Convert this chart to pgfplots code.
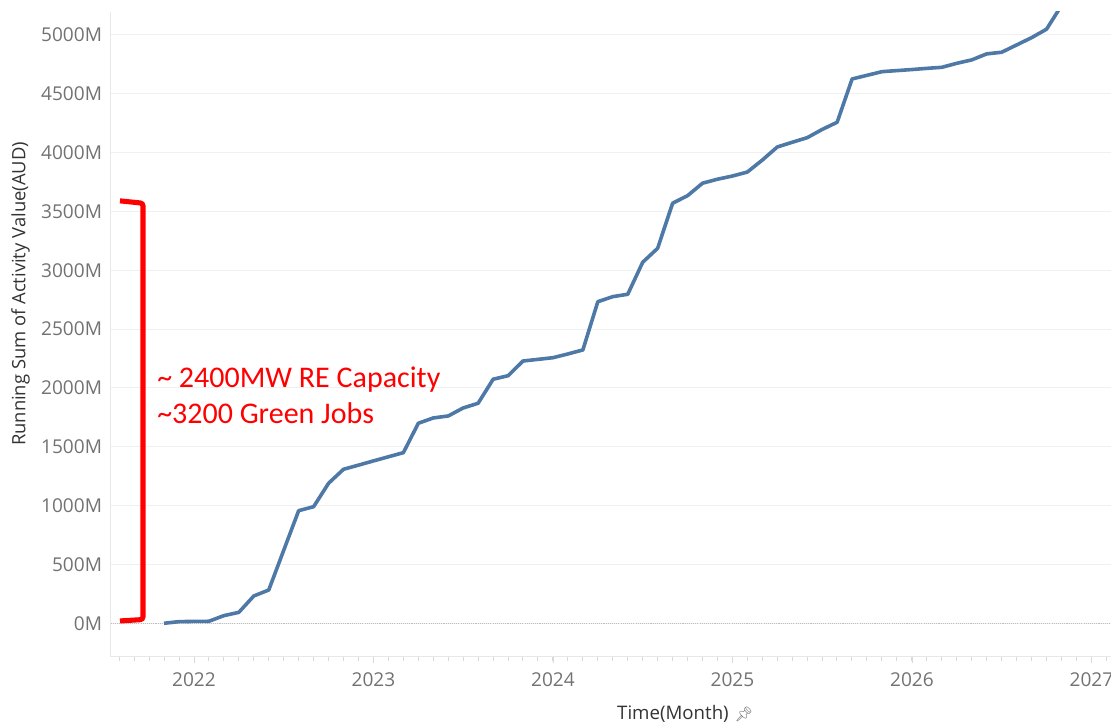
\documentclass[border=0pt]{standalone}
\usepackage{fontspec}
\setmainfont{Open Sans}
\newfontfamily\calfont{Carlito}
\newfontfamily\emojifont{Noto Emoji}
\usepackage{pgfplots}
\pgfplotsset{compat=1.18}
\definecolor{tblue}{HTML}{4E79A7}
\definecolor{ticklab}{HTML}{727272}
\definecolor{gridc}{HTML}{F0F0F0}
\definecolor{axc}{HTML}{E8E8E8}
\definecolor{titc}{HTML}{333333}

\pgfplotstableread{
x y
2021.8333 0
2021.9167 14
2022.0000 16
2022.0833 17
2022.1667 65
2022.2500 93
2022.3333 232
2022.4167 283
2022.5000 620
2022.5833 957
2022.6667 991
2022.7500 1190
2022.8333 1309
2022.9167 1344
2023.0000 1380
2023.0833 1415
2023.1667 1450
2023.2500 1700
2023.3333 1745
2023.4167 1762
2023.5000 1830
2023.5833 1870
2023.6667 2074
2023.7500 2104
2023.8333 2229
2023.9167 2243
2024.0000 2257
2024.0833 2289
2024.1667 2323
2024.2500 2733
2024.3333 2776
2024.4167 2796
2024.5000 3068
2024.5833 3187
2024.6667 3570
2024.7500 3634
2024.8333 3740
2024.9167 3774
2025.0000 3801
2025.0833 3835
2025.1667 3937
2025.2500 4048
2025.3333 4088
2025.4167 4127
2025.5000 4197
2025.5833 4258
2025.6667 4626
2025.7500 4657
2025.8333 4688
2025.9167 4697
2026.0000 4706
2026.0833 4716
2026.1667 4725
2026.2500 4759
2026.3333 4788
2026.4167 4839
2026.5000 4853
2026.5833 4915
2026.6667 4977
2026.7500 5049
2026.8333 5250
}\datatable

\begin{document}
\begin{tikzpicture}[x=1pt,y=1pt]
\path[use as bounding box] (-83pt,-51.2pt) rectangle (750.2pt,492.5pt);
\begin{axis}[
  at={(0pt,0pt)}, anchor=south west,
  scale only axis, width=750.2pt, height=483.5pt,
  xmin=2021.536, xmax=2027.109, ymin=-284, ymax=5195,
  axis x line*=bottom, axis y line*=left,
  axis line style={draw=axc, line width=0.75pt, -},
  xtick={2022,2023,2024,2025,2026,2027},
  xticklabels={2022,2023,2024,2025,2026,2027},
  minor xtick={2021.58333,2021.66667,...,2027.1},
  tick align=outside,
  major tick length=5pt, minor tick length=3.5pt,
  xtick style={draw=black!15, line width=0.6pt},
  minor tick style={draw=black!12, line width=0.6pt},
  ytick={0,500,1000,1500,2000,2500,3000,3500,4000,4500,5000},
  yticklabels={0M,500M,1000M,1500M,2000M,2500M,3000M,3500M,4000M,4500M,5000M},
  ytick style={draw=none},
  ymajorgrids, major grid style={draw=gridc, line width=0.75pt},
  extra y ticks={0}, extra y tick labels={},
  extra y tick style={ymajorgrids, major grid style={draw=black!25, dash pattern=on 0.8pt off 0.8pt, line width=0.6pt}},
  tick label style={font=\fontsize{14.3}{16}\selectfont, text=ticklab},
  yticklabel style={xshift=2pt},
  xticklabel style={yshift=-3.5pt},
  clip=true,
]
\addplot[tblue, line width=2.7pt, line join=round] table[x=x,y=y] {\datatable};
\draw[red, line width=3.8pt, rounded corners=2pt]
  (axis cs:2021.588,20) -- (axis cs:2021.716,32) -- (axis cs:2021.716,3570) -- (axis cs:2021.588,3590);
\node[anchor=base west, inner sep=0pt, text=red, font=\calfont\fontsize{22.5}{27}\selectfont]
  at (axis cs:2021.794,2000) {\textasciitilde\ 2400MW RE Capacity};
\node[anchor=base west, inner sep=0pt, text=red, font=\calfont\fontsize{22.5}{27}\selectfont]
  at (axis cs:2021.794,1702) {\textasciitilde3200 Green Jobs};
\end{axis}
\node[rotate=90, text=titc, font=\fontsize{13.8}{16}\selectfont] at (-67.5pt,272pt) {Running Sum of Activity Value(AUD)};
\node[text=titc, font=\fontsize{14}{16}\selectfont] at (421.7pt,-43pt) {Time(Month)};
\node[text=black!55, font=\emojifont\fontsize{11}{12}\selectfont] at (475pt,-43pt) {📌};
\end{tikzpicture}
\end{document}
